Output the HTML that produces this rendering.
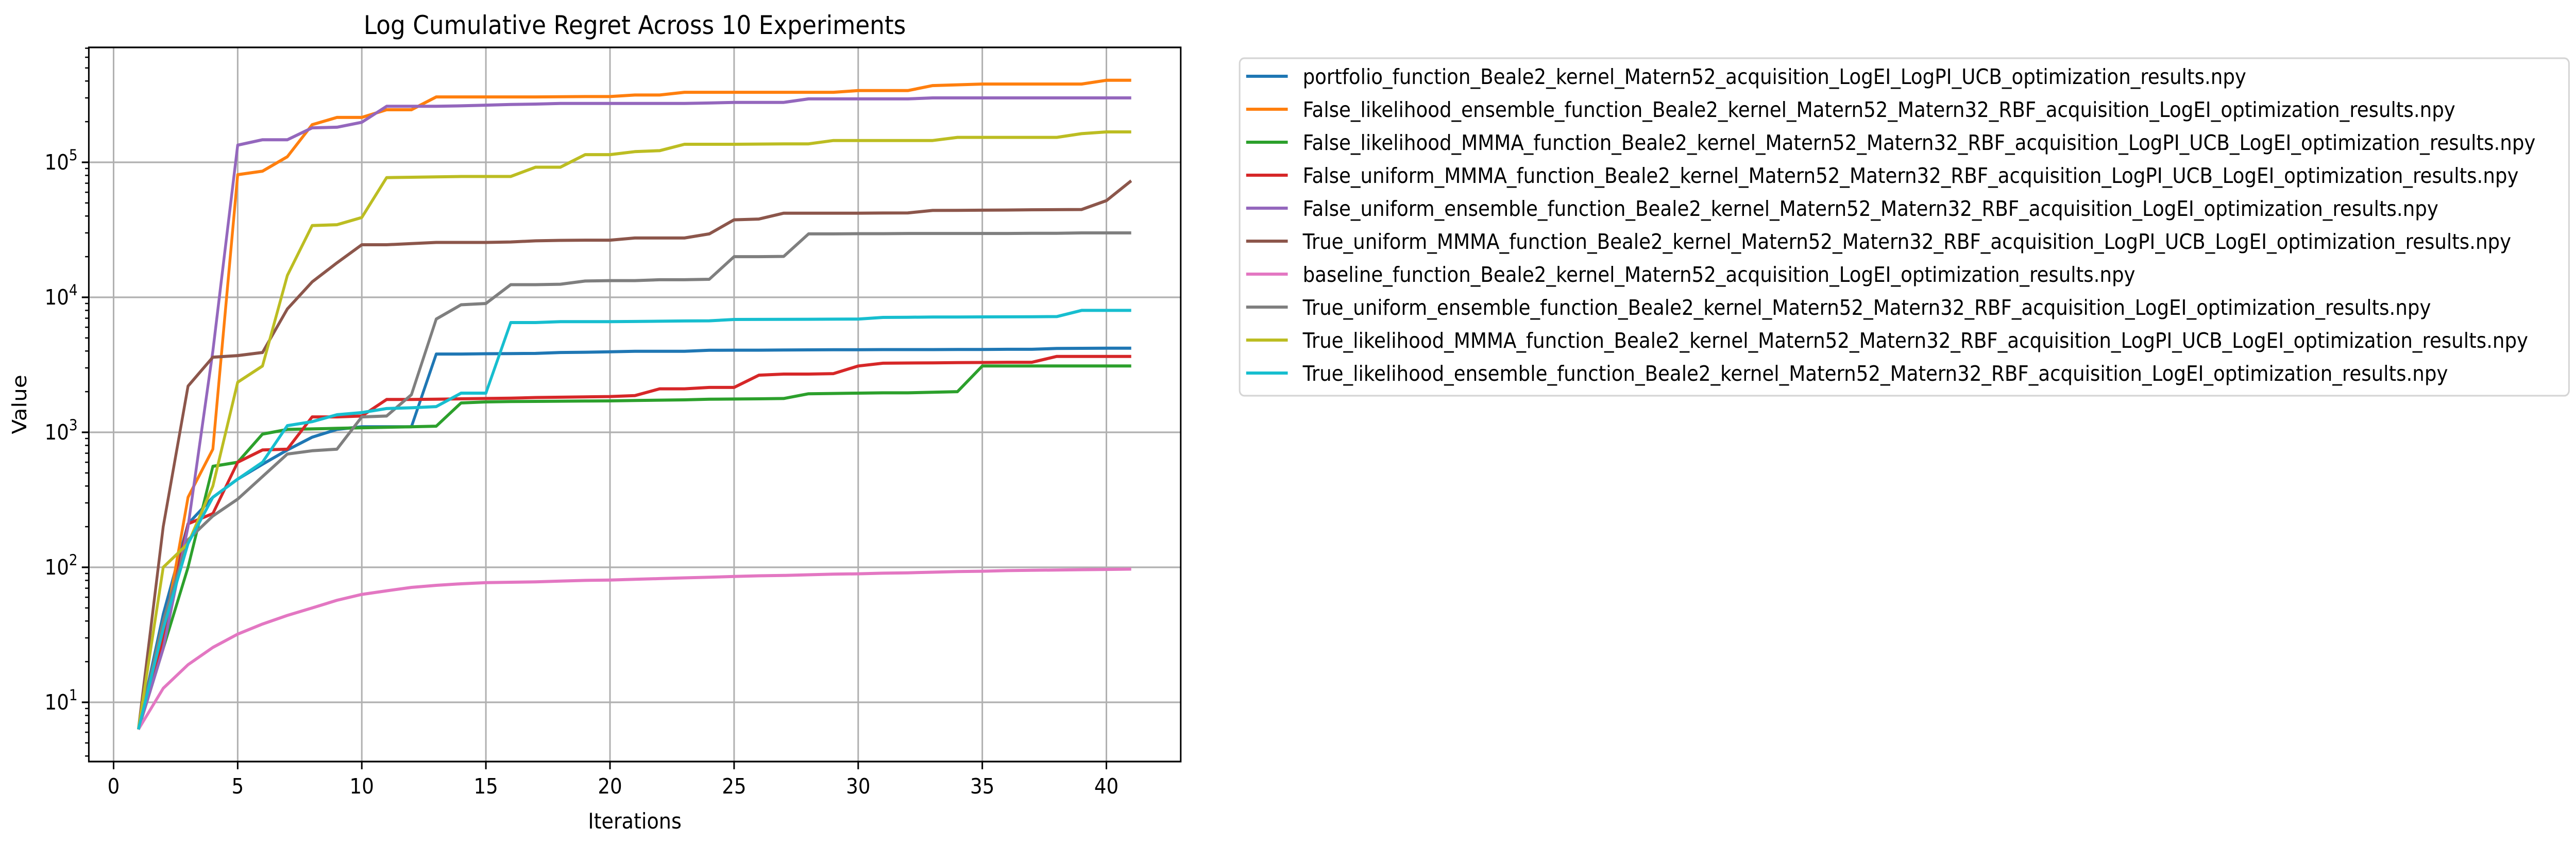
<!DOCTYPE html>
<html><head><meta charset="utf-8"><style>
html,body{margin:0;padding:0;background:#fff;overflow:hidden;width:100%;height:100%;}
svg{display:block;font-family:"DejaVu Sans","Liberation Sans",sans-serif;overflow:hidden;width:100vw;height:100vh;}
</style></head><body>
<svg id="chart" viewBox="0 0 5511 1638" preserveAspectRatio="none" xmlns="http://www.w3.org/2000/svg">
<rect width="5511" height="1638" fill="#fff"/>
<text x="1358" y="66" font-size="50" text-anchor="middle">Log Cumulative Regret Across 10 Experiments</text>
<text x="1358" y="1608" font-size="42" text-anchor="middle">Iterations</text>
<text x="0" y="0" font-size="42" text-anchor="middle" transform="translate(56,785) rotate(-90)">Value</text>
<g id="grid"></g><g id="series"></g><g id="axes"></g><g id="legend"></g>
</svg>
<script>
const labels=["portfolio_function_Beale2_kernel_Matern52_acquisition_LogEI_LogPI_UCB_optimization_results.npy","False_likelihood_ensemble_function_Beale2_kernel_Matern52_Matern32_RBF_acquisition_LogEI_optimization_results.npy","False_likelihood_MMMA_function_Beale2_kernel_Matern52_Matern32_RBF_acquisition_LogPI_UCB_LogEI_optimization_results.npy","False_uniform_MMMA_function_Beale2_kernel_Matern52_Matern32_RBF_acquisition_LogPI_UCB_LogEI_optimization_results.npy","False_uniform_ensemble_function_Beale2_kernel_Matern52_Matern32_RBF_acquisition_LogEI_optimization_results.npy","True_uniform_MMMA_function_Beale2_kernel_Matern52_Matern32_RBF_acquisition_LogPI_UCB_LogEI_optimization_results.npy","baseline_function_Beale2_kernel_Matern52_acquisition_LogEI_optimization_results.npy","True_uniform_ensemble_function_Beale2_kernel_Matern52_Matern32_RBF_acquisition_LogEI_optimization_results.npy","True_likelihood_MMMA_function_Beale2_kernel_Matern52_Matern32_RBF_acquisition_LogPI_UCB_LogEI_optimization_results.npy","True_likelihood_ensemble_function_Beale2_kernel_Matern52_Matern32_RBF_acquisition_LogEI_optimization_results.npy"];
const colors=["#1f77b4","#ff7f0e","#2ca02c","#d62728","#9467bd","#8c564b","#e377c2","#7f7f7f","#bcbd22","#17becf"];
const xTicks=[0,5,10,15,20,25,30,35,40];
const yDecades=[1,2,3,4,5];
const sPortfolio=[6.3,45,210,330,450,580,740,920,1050,1100,1100,1100,3800,3800,3820,3830,3840,3900,3920,3950,3980,3980,3980,4050,4060,4060,4070,4080,4090,4090,4100,4100,4100,4110,4110,4120,4120,4180,4190,4200,4200];
const sFalseLikEns=[6.3,30,330,750,81000,86000,110000,190000,215000,215000,245000,245000,305000,305000,305000,305000,305000,306000,307000,307000,315000,315000,330000,330000,330000,330000,330000,330000,330000,340000,340000,340000,370000,375000,380000,380000,380000,380000,380000,405000,405000];
const sFalseLikMMMA=[6.3,25,100,560,600,970,1050,1060,1070,1080,1090,1100,1110,1650,1680,1690,1695,1700,1705,1710,1720,1730,1740,1760,1765,1770,1780,1930,1940,1950,1960,1960,1980,2000,3100,3100,3100,3100,3100,3100,3100];
const sFalseUniMMMA=[6.3,30,210,250,600,740,750,1300,1300,1320,1750,1750,1760,1770,1780,1790,1810,1820,1830,1840,1870,2100,2100,2150,2150,2650,2700,2700,2720,3100,3250,3260,3270,3280,3290,3300,3300,3650,3650,3650,3650];
const sFalseUniEns=[6.3,25,200,4000,134000,147000,147000,180000,182000,198000,260000,260000,260000,262000,265000,268000,270000,273000,273000,273000,273000,273000,273000,275000,278000,278000,278000,295000,295000,295000,295000,295000,300000,300000,300000,300000,300000,300000,300000,300000,300000];
const sTrueUniMMMA=[6.3,200,2200,3600,3700,3900,8200,13000,18000,24500,24500,25000,25500,25500,25500,25700,26200,26400,26500,26500,27500,27500,27500,29500,37500,38000,42000,42000,42000,42000,42100,42200,44000,44100,44200,44300,44500,44600,44700,52000,73000];
const sBaseline=[6.3,12.7,19,25.5,32,38,44,50,57,63,67,71,73.5,75.5,77,77.5,78,79,80,80.5,81.5,82.5,83.5,84.5,85.5,86.5,87,88,89,89.5,90.5,91,92,93,93.5,94.5,95,95.5,96,96.5,97];
const sTrueUniEns=[6.3,40,160,240,320,470,690,730,750,1300,1320,1900,6900,8800,9000,12400,12400,12500,13200,13300,13300,13500,13500,13600,20000,20000,20100,29500,29500,29600,29600,29700,29700,29700,29700,29700,29800,29800,30000,30000,30000];
const sTrueLikMMMA=[6.3,100,150,400,2350,3100,14500,34000,34500,39000,77000,77500,78000,78500,78500,78500,92000,92000,114000,114000,120000,122000,136000,136000,136000,136500,137000,137000,145000,145000,145000,145000,145000,153000,153000,153000,153000,153000,163000,168000,168000];
const sTrueLikEns=[6.3,35,150,330,450,600,1120,1200,1350,1400,1500,1520,1550,1950,1950,6500,6500,6600,6600,6600,6620,6650,6680,6700,6850,6860,6870,6880,6890,6900,7100,7120,7140,7150,7160,7170,7180,7200,8000,8000,8000];
const series=[sPortfolio,sFalseLikEns,sFalseLikMMMA,sFalseUniMMMA,sFalseUniEns,sTrueUniMMMA,sBaseline,sTrueUniEns,sTrueLikMMMA,sTrueLikEns];

const L=190,R=2526,T=92,B=1478;
const X0=243,XU=53.1,Y1=1363,DEC=262;
function xs(v){return X0+v*XU;}
function ys(v){return Y1-(Math.log10(v)-1)*DEC;}
const NS="http://www.w3.org/2000/svg";
function mk(tag,attrs,parent){const e=document.createElementNS(NS,tag);for(const k in attrs)e.setAttribute(k,attrs[k]);parent.appendChild(e);return e;}
const grid=document.getElementById('grid'),axes=document.getElementById('axes'),sg=document.getElementById('series'),lg=document.getElementById('legend');

xTicks.forEach(t=>{const x=xs(t);
 const g=mk('line',{x1:x,x2:x,y1:T,y2:B,stroke:'#b0b0b0','stroke-width':3.3},grid);
 
 
 mk('line',{x1:x,x2:x,y1:B,y2:B+15,stroke:'#000','stroke-width':3.3},axes);
 const tl=mk('text',{x:x,y:B+62,'font-size':41,'text-anchor':'middle'},axes);tl.textContent=t;
 
 
});
yDecades.forEach(d=>{const y=ys(Math.pow(10,d));
 const g=mk('line',{x1:L,x2:R,y1:y,y2:y,stroke:'#b0b0b0','stroke-width':3.3},grid);
 
 
 mk('line',{x1:L-15,x2:L,y1:y,y2:y,stroke:'#000','stroke-width':3.3},axes);
 const tl=mk('text',{x:L-24,y:y+14,'font-size':41,'text-anchor':'end'},axes);
 
 
 const a=mk('tspan',{},tl);a.textContent='10';
 const b=mk('tspan',{dy:-18,'font-size':29},tl);b.textContent=String(d);
});
for(let d=0;d<=5;d++){for(let m=2;m<=9;m++){const v=m*Math.pow(10,d);const y=ys(v);if(y<T||y>B)continue;
 mk('line',{x1:L-8,x2:L,y1:y,y2:y,stroke:'#000','stroke-width':2.5},axes);}}
mk('rect',{x:L,y:T,width:R-L,height:B-T,fill:'none',stroke:'#000','stroke-width':3.3},axes);

series.forEach((s,i)=>{
 const pts=s.map((v,k)=>xs(k+1).toFixed(1)+','+ys(v).toFixed(1)).join(' ');
 const p=mk('polyline',{points:pts,fill:'none',stroke:colors[i],'stroke-width':6,'stroke-linejoin':'round'},sg);
 
 
});

const box=mk('rect',{x:2652,y:113,width:2844,height:655,rx:10,fill:'#fff',stroke:'#d5d5d5','stroke-width':3.3},lg);


const texts=[];
labels.forEach((lab,i)=>{const y=148+i*64;
 const h=mk('line',{x1:2666,x2:2755,y1:y,y2:y,stroke:colors[i],'stroke-width':6},lg);
 
 
 const t=mk('text',{x:2787,y:y+15,'font-size':41},lg);t.textContent=lab;
 
 
 texts.push(t);
});
let maxW=0;texts.forEach(t=>{maxW=Math.max(maxW,t.getComputedTextLength());});
if(maxW>2690){const f=2690/maxW;texts.forEach(t=>{const w=t.getComputedTextLength();t.setAttribute('textLength',(w*f).toFixed(1));t.setAttribute('lengthAdjust','spacingAndGlyphs');});}
</script>
</body></html>
